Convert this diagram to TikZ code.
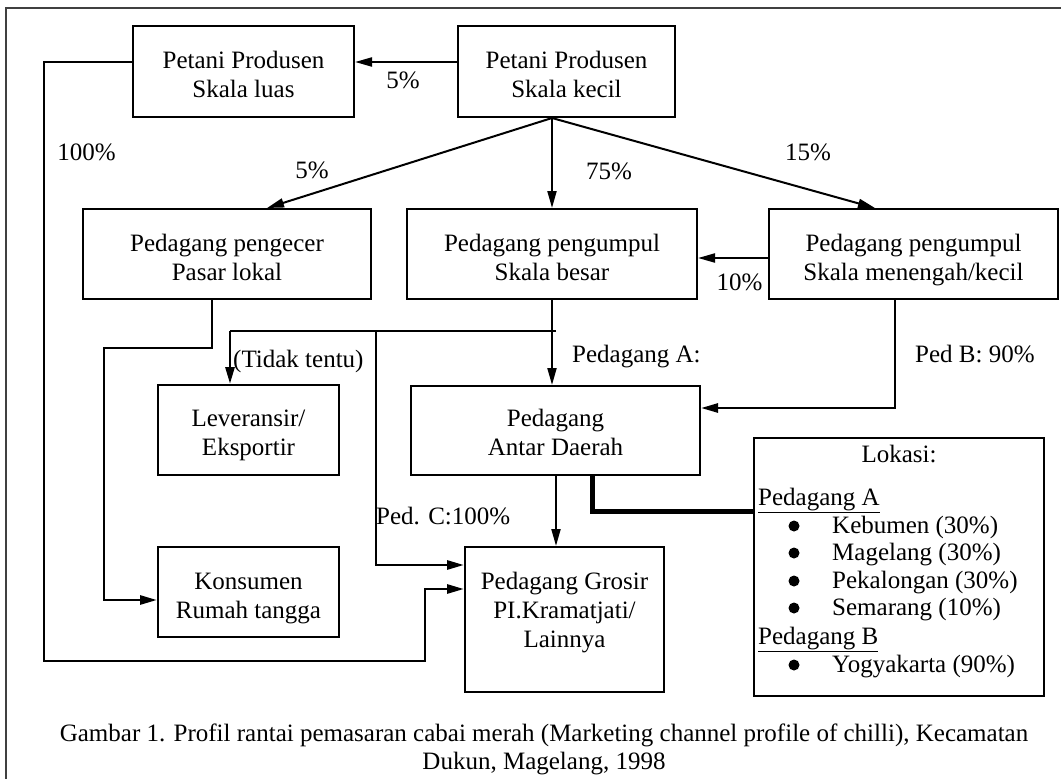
\documentclass[tikz,border=0pt]{standalone}
\usepackage{fontspec}
\setmainfont{Liberation Serif}
\usetikzlibrary{arrows.meta}
\newcommand\boxlines[1]{\begin{tabular}[b]{@{}c@{}}#1\end{tabular}}
\begin{document}
\begin{tikzpicture}[x=1pt,y=-1pt,
  every node/.style={font=\fontsize{25}{29}\selectfont, inner sep=0pt},
  box/.style={draw, line width=2pt, text depth=0pt},
  arr/.style={line width=2pt, -{Triangle[length=17pt,width=9pt]}},
  thk/.style={line width=2.8pt},
  lbl/.style={anchor=base},
  lblw/.style={anchor=base west},
  bul/.style={circle, fill, minimum size=11pt},
]
\useasboundingbox (0,0) rectangle (1061,779);
% frame
\draw[line width=1.6pt, black!75] (6,800) -- (6,8) -- (1080,8);

% boxes
\node[box, minimum width=221pt, minimum height=91pt, text height=51pt] (luas) at (243.5,71.5) {\boxlines{Petani Produsen\\Skala luas}};
\node[box, minimum width=217pt, minimum height=91pt, text height=51pt] (kecil) at (566.5,71.5) {\boxlines{Petani Produsen\\Skala kecil}};
\node[box, minimum width=288pt, minimum height=90pt, text height=52pt] (pengecer) at (227,254) {\boxlines{Pedagang pengecer\\Pasar lokal}};
\node[box, minimum width=290pt, minimum height=90pt, text height=52pt] (besar) at (552,254) {\boxlines{Pedagang pengumpul\\Skala besar}};
\node[box, minimum width=289pt, minimum height=90pt, text height=52pt] (menengah) at (913.5,254) {\boxlines{Pedagang pengumpul\\Skala menengah/kecil}};
\node[box, minimum width=181pt, minimum height=90pt, text height=50pt] (lever) at (248.5,430) {\boxlines{Leveransir/\\Eksportir}};
\node[box, minimum width=289pt, minimum height=89pt, text height=49pt] (antar) at (555.5,430.5) {\boxlines{Pedagang\\Antar Daerah}};
\node[box, minimum width=181pt, minimum height=90pt, text height=52pt] (konsumen) at (248.5,592) {\boxlines{Konsumen\\Rumah tangga}};
\node[box, minimum width=199pt, minimum height=145pt, text height=55pt] (grosir) at (564.5,619.5) {\boxlines{Pedagang Grosir\\PI.Kramatjati/\\Lainnya}};
\node[draw, line width=2pt, minimum width=290pt, minimum height=258pt] (lokasi) at (899,567) {};

% lokasi content
\node[lbl] (lok) at (899,462) {Lokasi:};
\node[lblw] (pa) at (758,505) {\underline{Pedagang A}};
\node[bul] (b1) at (794,526) {};
\node[bul] (b2) at (794,553) {};
\node[bul] (b3) at (794,581) {};
\node[bul] (b4) at (794,608) {};
\node[lblw] (i1) at (832,533) {Kebumen (30\%)};
\node[lblw] (i2) at (832,560) {Magelang (30\%)};
\node[lblw] (i3) at (832,588) {Pekalongan (30\%)};
\node[lblw] (i4) at (832,615) {Semarang (10\%)};
\node[lblw] (pb) at (758,644) {\underline{Pedagang B}};
\node[bul] (b5) at (794,665) {};
\node[lblw] (i5) at (832,672) {Yogyakarta (90\%)};

% coordinates
\coordinate (kb) at ([xshift=-14.5pt]kecil.south);
\coordinate (j1) at (556,331);
\coordinate (j2) at (230,331);
\coordinate (j3) at (376,331);
\coordinate (p1) at (104,348);
\coordinate (c1) at (44,661);
\coordinate (c2) at (425,661);

% connectors
\draw[arr] ([yshift=9.5pt]kecil.west) -- ([yshift=9.5pt]luas.east);
\draw[arr] (kb) -- ([xshift=40pt]pengecer.north);
\draw[arr] (kb) -- (besar.north);
\draw[arr] (kb) -- ([xshift=-38.5pt]menengah.north);
\draw[arr] ([yshift=-4pt]menengah.west) -- ([yshift=-4pt]besar.east);
\draw[arr] (besar.south) -- ([xshift=-3.5pt]antar.north);
\draw[thk] (j1) -- (j2);
\draw[arr, line width=2.8pt] (j2) -- ([xshift=-18.5pt]lever.north);
\draw[arr, line width=2.8pt] (j3) |- ([yshift=54.5pt]grosir.west);
\draw[arr, line width=2.8pt] ([xshift=-15pt]pengecer.south) |- (p1) |- ([yshift=-8pt]konsumen.west);
\draw[arr, line width=2.8pt] ([yshift=9.5pt]luas.west) -| (c1) -- (c2) |- ([yshift=30.5pt]grosir.west);
\draw[arr, line width=2.6pt] ([xshift=-18.5pt]menengah.south) |- ([yshift=22.5pt]antar.east);
\draw[arr] ([xshift=0.5pt]antar.south) -- ([xshift=-8.5pt]grosir.north);
\draw[line width=5pt] ([xshift=36.5pt]antar.south) |- ([yshift=56pt]lokasi.west);

% labels
\node[lbl] (l5a) at (403,88) {5\%};
\node[lbl] (l100) at (86.5,160) {100\%};
\node[lbl] (l5b) at (312,178) {5\%};
\node[lbl] (l75) at (609,179) {75\%};
\node[lbl] (l15) at (808,160) {15\%};
\node[lbl] (l10) at (739.5,290) {10\%};
\node[lblw] (ltt) at (233,367) {(Tidak tentu)};
\node[lblw] (lpa) at (572,362) {Pedagang A:};
\node[lblw] (lpb) at (915,362) {Ped B: 90\%};
\node[lblw] (lpc) at (376,524) {Ped. C:100\%};

% caption
\node[lbl] (cap1) at (544,741) {Gambar 1. Profil rantai pemasaran cabai merah (Marketing channel profile of chilli), Kecamatan};
\node[lbl] (cap2) at (544,769) {Dukun, Magelang, 1998};
\end{tikzpicture}
\end{document}
